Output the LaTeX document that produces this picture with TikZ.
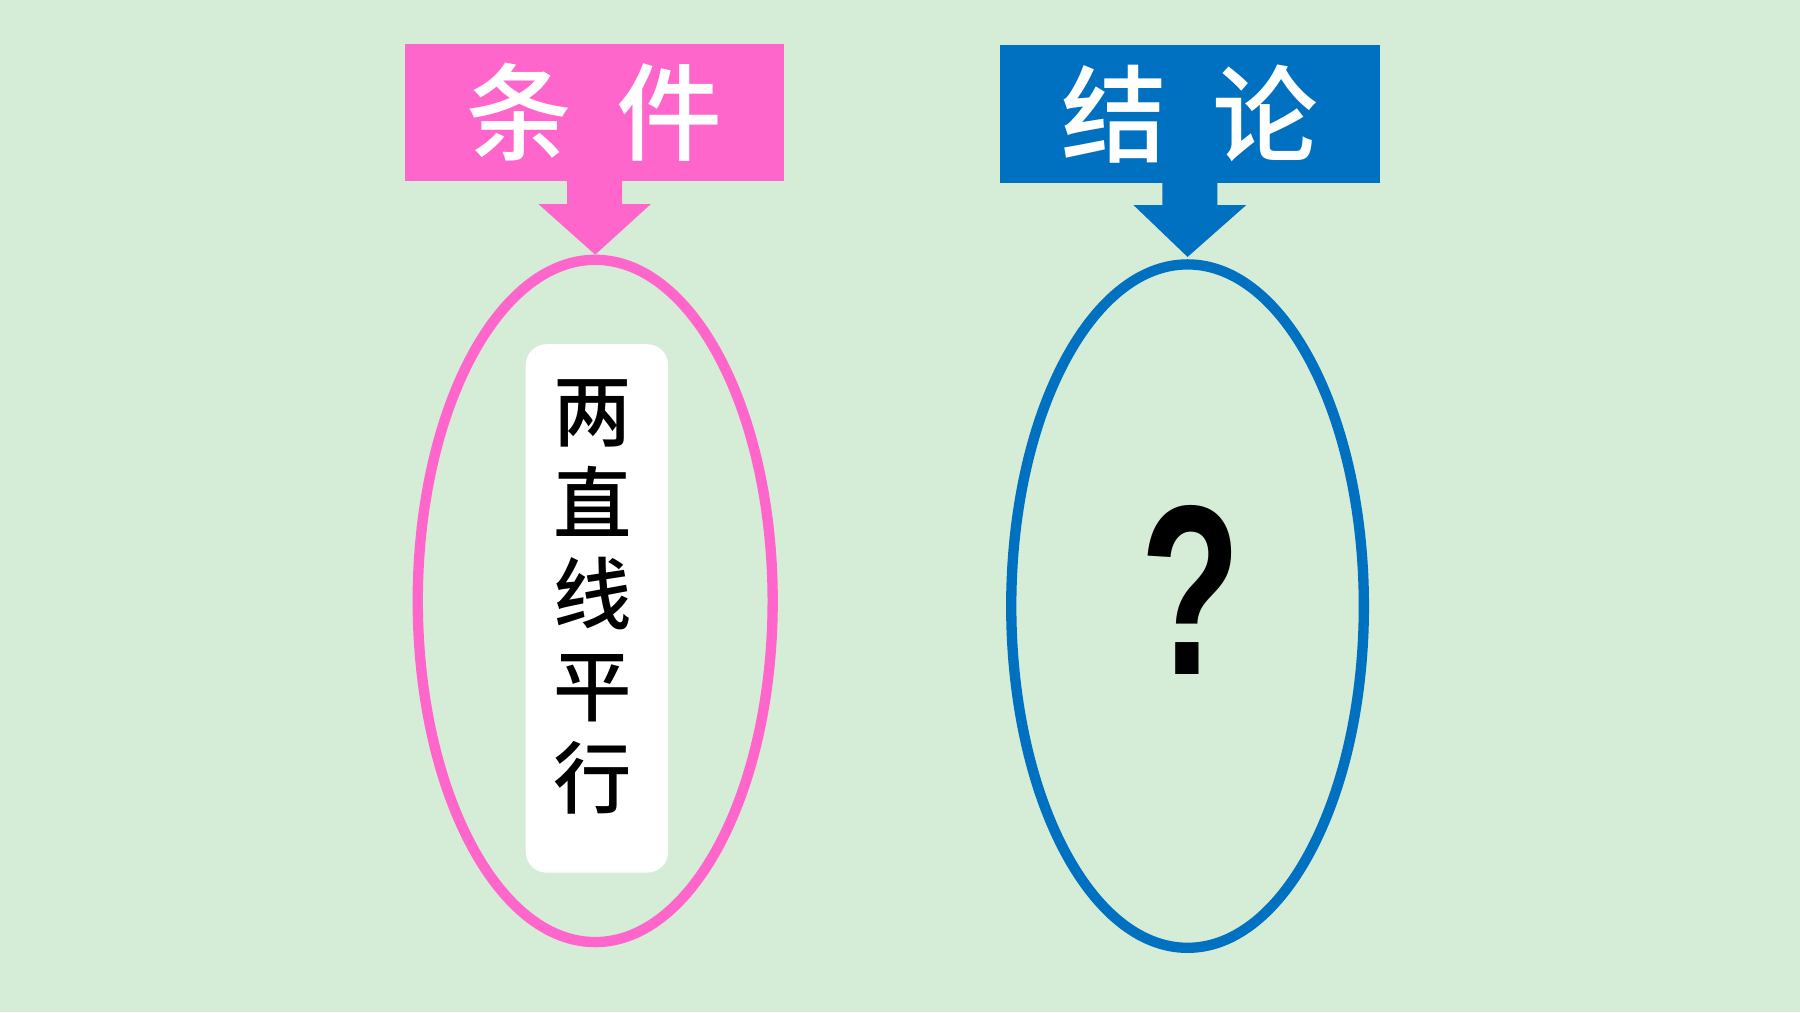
\documentclass[tikz,border=0pt]{standalone}
\usepackage{fontspec}
\setmainfont{Liberation Sans}
\newfontfamily\cjk{Noto Sans CJK SC Medium}
\usetikzlibrary{shapes.geometric,calc}
\definecolor{bg}{HTML}{D5ECD6}
\definecolor{pinkc}{HTML}{FF66CC}
\definecolor{bluec}{HTML}{0070C0}
\begin{document}
\begin{tikzpicture}[x=0.01cm,y=-0.01cm,
  titlebox/.style={minimum width=3.3cm, minimum height=1.2cm, inner sep=0pt, text=white,
    font=\cjk\fontsize{26.2}{26.2}\selectfont},
  oval/.style={ellipse, line width=2.56pt, minimum width=3.09cm, minimum height=5.94cm, inner sep=0pt}]
\fill[bg] (0,0) rectangle (1568,882);
\useasboundingbox (0,0) rectangle (1568,882);
% boxes
\node[titlebox, fill=pinkc] (condbox) at (518,98) {条\hspace{0.39cm}件};
\node[titlebox, fill=bluec, minimum width=3.31cm] (conclbox) at (1036.5,99) {结\hspace{0.39cm}论};
% ovals
\node[oval, draw=pinkc] (condell) at (518.5,523.5) {};
\node[oval, draw=bluec, minimum width=3.07cm, minimum height=5.95cm] (conclell) at (1034.5,528) {};
% block arrows
\fill[pinkc] ($(condbox.south)+(-24,-1)$) -- ($(condbox.south)+(-24,19)$) -- ($(condbox.south)+(-49,19)$)
  -- (condell.north) -- ($(condbox.south)+(49,19)$) -- ($(condbox.south)+(24,19)$)
  -- ($(condbox.south)+(24,-1)$) -- cycle;
\fill[bluec] ($(conclbox.south)+(-24,-1)$) -- ($(conclbox.south)+(-24,19)$) -- ($(conclbox.south)+(-49,19)$)
  -- ($(conclell.north)+(0,-2)$) -- ($(conclbox.south)+(49,19)$) -- ($(conclbox.south)+(24,19)$)
  -- ($(conclbox.south)+(24,-1)$) -- cycle;
% condition panel
\node[fill=white, rounded corners=0.18cm, minimum width=1.24cm, minimum height=4.6cm, inner sep=0pt] (condpanel) at (520,530) {};
\node[font=\cjk\fontsize{19.4}{22.76}\selectfont, align=center, inner sep=0pt] (condtext) at (516,520) {两\\直\\线\\平\\行};
% question mark
\node[font=\bfseries\fontsize{60}{60}\selectfont, inner sep=0pt] (qmark) at (1037,514) {\scalebox{0.68}[1]{?}};
\end{tikzpicture}
\end{document}
